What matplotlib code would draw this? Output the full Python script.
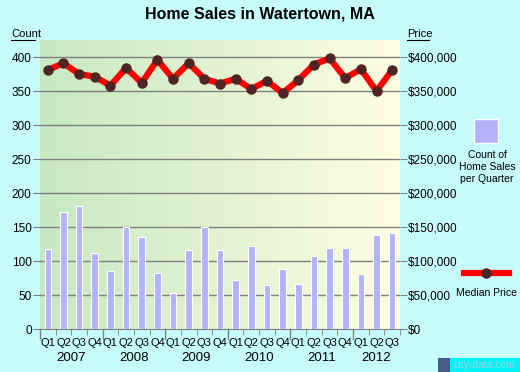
"""Home sales count and median price by quarter, Watertown MA."""

import matplotlib

matplotlib.use("Agg")
import matplotlib.pyplot as plt  # noqa: E402
import matplotlib.ticker as ticker  # noqa: E402
import numpy as np  # noqa: E402
from matplotlib.colors import LinearSegmentedColormap  # noqa: E402
from matplotlib.patches import Rectangle  # noqa: E402

QUARTERS = ["Q1", "Q2", "Q3", "Q4"] * 5 + ["Q1", "Q2", "Q3"]
YEARS = ["2007", "2008", "2009", "2010", "2011", "2012"]
COUNTS = [118, 172, 181, 112, 85, 151, 135, 82, 54, 116, 150, 116,
          72, 122, 65, 88, 66, 108, 119, 119, 81, 138, 141]
PRICES = [381000, 391000, 375000, 371000, 358000, 384000, 362000, 396000,
          368000, 391000, 368000, 361000, 368000, 353000, 365000, 347000,
          366000, 389000, 398000, 369000, 382000, 350000, 381000]

FIG_BG = "#c6fcfc"
BAR_COLOR = "#b3b3fb"
LINE_COLOR = "#ff0000"
DOT_COLOR = "#4e2424"
GRID_COLOR = "#808080"
FONT = "Liberation Sans"

plt.rcParams["font.family"] = FONT

fig = plt.figure(figsize=(5.2, 3.72), dpi=100, facecolor=FIG_BG)
ax = fig.add_axes([40 / 520, 42.7 / 372, 360 / 520, 289.3 / 372])
n = len(COUNTS)
x = np.arange(n)

# gradient background (green -> pale yellow)
cmap = LinearSegmentedColormap.from_list("bg", ["#c8e8c2", "#fefee2"])
ax.imshow(np.linspace(0, 1, 256).reshape(1, -1), cmap=cmap, aspect="auto",
          extent=(-0.5, n - 0.5, 0, 425), zorder=0)
for yv in range(50, 401, 50):
    ax.axhline(yv, color=GRID_COLOR, linewidth=1.0, zorder=1)

ax.bar(x, COUNTS, width=0.42, color=BAR_COLOR, edgecolor="white",
       linewidth=0.8, zorder=3)
ax.set_xlim(-0.5, n - 0.5)
ax.set_ylim(0, 425)
ax.yaxis.set_major_locator(ticker.MultipleLocator(50))

for s in ax.spines.values():
    s.set_visible(False)
ax.spines["bottom"].set_visible(True)
ax.spines["bottom"].set_color(GRID_COLOR)

ax.set_xticks(x)
ax.set_xticklabels(QUARTERS, fontsize=8)
ax.tick_params(axis="x", length=0, pad=6)
ax.set_xticks(np.arange(-0.5, n, 1), minor=True)
ax.tick_params(axis="x", which="minor", length=4, color=GRID_COLOR)
ax.tick_params(axis="y", length=5, color=GRID_COLOR, labelsize=8.5, pad=1)

# year labels under each group of quarters
for i, yr in enumerate(YEARS):
    start = i * 4
    end = min(start + 3, n - 1)
    ax.text((start + end) / 2, -0.1, yr, transform=ax.get_xaxis_transform(),
            ha="center", va="center", fontsize=9.5)
for b in range(0, n + 1, 4):
    ax.plot([b - 0.5, b - 0.5], [0, -0.035], transform=ax.get_xaxis_transform(),
            color=GRID_COLOR, linewidth=1, clip_on=False)

ax2 = ax.twinx()
ax2.plot(x, PRICES, color=LINE_COLOR, linewidth=4.5, zorder=4,
         solid_joinstyle="miter")
ax2.plot(x, PRICES, linestyle="none", marker="o", markersize=6.5,
         color=DOT_COLOR, zorder=5)
ax2.set_ylim(0, 425000)
ax2.yaxis.set_major_locator(ticker.MultipleLocator(50000))
ax2.yaxis.set_major_formatter(ticker.FuncFormatter(lambda v, _: f"${v:,.0f}"))
ax2.tick_params(axis="y", length=5, color=GRID_COLOR, labelsize=8.5, pad=1)
for s in ax2.spines.values():
    s.set_visible(False)

fig.text(0.5, 0.962, "Home Sales in Watertown, MA", ha="center", va="center",
         fontsize=11.5, fontweight="bold")
fig.text(11 / 520, 1 - 34 / 372, "Count", ha="left", va="center", fontsize=8)
fig.add_artist(plt.Line2D([11 / 520, 35 / 520],
                          [1 - 40 / 372, 1 - 40 / 372], color="black", lw=0.8))
fig.text(407 / 520, 1 - 34 / 372, "Price", ha="left", va="center", fontsize=8)
fig.add_artist(plt.Line2D([407 / 520, 429 / 520],
                          [1 - 40 / 372, 1 - 40 / 372], color="black", lw=0.8))

# legend
fig.add_artist(Rectangle((474 / 520, 1 - 143 / 372), 24 / 520, 24 / 372,
                         facecolor=BAR_COLOR, edgecolor="white", lw=1))
fig.text(487 / 520, 1 - 167 / 372, "Count of\nHome Sales\nper Quarter",
         ha="center", va="center", fontsize=7.5, linespacing=1.3)
fig.add_artist(plt.Line2D([464 / 520, 509 / 520], [1 - 273 / 372, 1 - 273 / 372],
                          color=LINE_COLOR, lw=4.5))
fig.add_artist(plt.Line2D([486 / 520], [1 - 273 / 372], marker="o",
                          markersize=6.5, color=DOT_COLOR))
fig.text(486 / 520, 1 - 293 / 372, "Median Price", ha="center", va="center",
         fontsize=7.5)

# watermark
fig.add_artist(Rectangle((438 / 520, 0), 82 / 520, 14 / 372,
                         facecolor="#00f4f4", edgecolor="none"))
fig.add_artist(Rectangle((438 / 520, 0), 12 / 520, 14 / 372,
                         facecolor="#4a5a8a", edgecolor="none"))
fig.text(484 / 520, 7 / 372, "city-data.com", ha="center", va="center",
         fontsize=7.5, color="#b0c8e0")

fig.savefig("out.png", dpi=100, facecolor=FIG_BG)
